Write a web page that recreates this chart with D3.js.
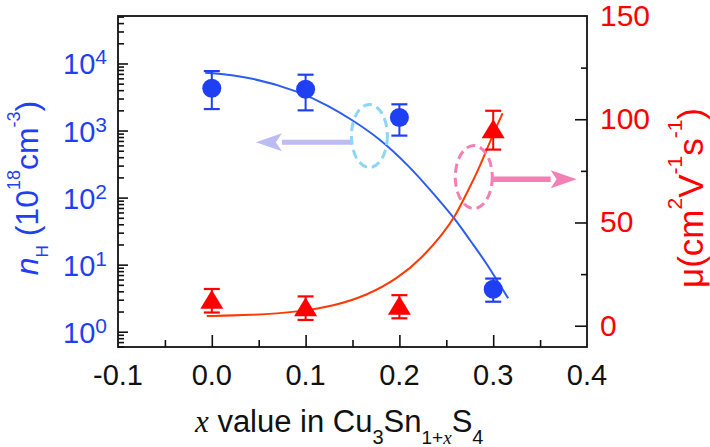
<!DOCTYPE html>
<html><head><meta charset="utf-8">
<script src="https://cdn.jsdelivr.net/npm/d3@7"></script>
<style>
html,body{margin:0;padding:0;background:#fff;}
svg{display:block;font-family:"Liberation Sans",Arial,sans-serif;}
</style></head>
<body>
<script>
// ---- data ----
const xVals = [0.0, 0.1, 0.2, 0.3];
const nH = [4270, 4120, 1560, 4.3];
const nHErrHi = [7700, 6800, 2460, 6.2];
const nHErrLo = [2090, 2000, 840, 2.8];
const mu = [12.1, 8.5, 9.2, 94.7];
const muErr = [5.7, 5.7, 5.6, 9.4];
const nHFitX = [-0.007, 0.041, 0.094, 0.126, 0.147, 0.179, 0.211, 0.233, 0.259, 0.275, 0.293, 0.307, 0.316];
const nHFitY = [7290, 6360, 3800, 2270, 1520, 766, 289, 130, 49.1, 23.3, 10.5, 4.97, 3.15];
const muFitX = [-0.0054, 0.0407, 0.094, 0.1295, 0.1651, 0.1985, 0.2255, 0.2468, 0.2593, 0.2717, 0.2859, 0.3001, 0.3101];
const muFitY = [4.70, 5.04, 6.78, 9.54, 14.6, 22.9, 33.4, 44.8, 52.8, 64.1, 77.0, 93.2, 102.9];
const xTicks = [-0.1, 0.0, 0.1, 0.2, 0.3, 0.4];
const xTickLabels = ["-0.1", "0.0", "0.1", "0.2", "0.3", "0.4"];
const xMinorTicks = [-0.05, 0.05, 0.15, 0.25, 0.35];
const leftTicks = [1, 10, 100, 1000, 10000];
const leftTickExp = ["0", "1", "2", "3", "4"];
const rightTicks = [0, 50, 100, 150];
const rightMinorTicks = [25, 75, 125];
// annotations (data coords)
const blueEllipse = {x: 0.168, y: 830};
const blueArrow = {x0: 0.149, x1: 0.047, y: 668};
const pinkEllipse = {x: 0.2793, y: 72.0};
const pinkArrow = {x0: 0.300, x1: 0.389, y: 70.9};

// ---- layout ----
const W = 710, H = 447;
const M = {l: 118, r: 587, t: 16, b: 347};
const BLUE = "#1f3ff2", RED = "#ff0000";
const FS = 29;

const svg = d3.select("body").append("svg").attr("width", W).attr("height", H);
svg.append("rect").attr("width", W).attr("height", H).attr("fill", "#fff");

const x = d3.scaleLinear().domain([-0.1, 0.4]).range([M.l, M.r]);
const yL = d3.scaleLog().domain([0.5915, 51050]).range([M.b, M.t]);
const yR = d3.scaleLinear().domain([-10.3, 150]).range([M.b, M.t]);

// minor log ticks
const leftMinor = [];
for (let e = -1; e <= 4; e++) for (let k = 2; k <= 9; k++) {
  const v = k * Math.pow(10, e);
  if (v >= yL.domain()[0] && v <= yL.domain()[1]) leftMinor.push(v);
}

// axes (ticks inward)
const gx = svg.append("g").attr("transform", `translate(0,${M.b})`)
  .call(d3.axisBottom(x).tickValues(xTicks.slice(1, -1)).tickSize(-12).tickFormat(""));
const gx2 = svg.append("g").attr("transform", `translate(0,${M.b})`)
  .call(d3.axisBottom(x).tickValues(xMinorTicks).tickSize(-7).tickFormat(""));
const gl = svg.append("g").attr("transform", `translate(${M.l},0)`)
  .call(d3.axisLeft(yL).tickValues(leftTicks).tickSize(-10).tickFormat(""));
const gl2 = svg.append("g").attr("transform", `translate(${M.l},0)`)
  .call(d3.axisLeft(yL).tickValues(leftMinor).tickSize(-6).tickFormat(""));
const gr = svg.append("g").attr("transform", `translate(${M.r},0)`)
  .call(d3.axisRight(yR).tickValues(rightTicks.slice(0, 3)).tickSize(-12).tickFormat(""));
const gr2 = svg.append("g").attr("transform", `translate(${M.r},0)`)
  .call(d3.axisRight(yR).tickValues(rightMinorTicks).tickSize(-6).tickFormat(""));
[gx, gx2, gl, gl2, gr, gr2].forEach(g => {
  g.select(".domain").remove();
  g.selectAll(".tick line").attr("stroke", "#111").attr("stroke-width", 1.6);
});

// frame
svg.append("rect").attr("x", M.l).attr("y", M.t).attr("width", M.r - M.l).attr("height", M.b - M.t)
  .attr("fill", "none").attr("stroke", "#111").attr("stroke-width", 1.8);

// x tick labels
svg.append("g").selectAll("text").data(xTicks).join("text")
  .attr("x", d => x(d)).attr("y", M.b + 38).attr("text-anchor", "middle")
  .attr("font-size", FS).attr("fill", "#111")
  .text((d, i) => xTickLabels[i]);

// left tick labels 10^n
const ll = svg.append("g").selectAll("text").data(leftTicks).join("text")
  .attr("x", M.l - 11).attr("y", d => yL(d) + 11).attr("text-anchor", "end")
  .attr("font-size", FS).attr("fill", BLUE);
ll.append("tspan").text("10");
ll.append("tspan").attr("font-size", 21).attr("dy", -10).text((d, i) => leftTickExp[i]);

// right tick labels
svg.append("g").selectAll("text").data(rightTicks).join("text")
  .attr("x", M.r + 13).attr("y", d => yR(d) + 10).attr("text-anchor", "start")
  .attr("font-size", 30).attr("fill", RED).text(d => d);

// left title
const lt = svg.append("text").attr("transform", `translate(38,188) rotate(-90)`)
  .attr("text-anchor", "middle").attr("font-size", 32).attr("fill", BLUE);
lt.append("tspan").attr("font-style", "italic").text("n");
lt.append("tspan").attr("font-size", 17).attr("dy", 10).text("H");
lt.append("tspan").attr("dy", -10).text(" (10");
lt.append("tspan").attr("font-size", 18).attr("dy", -18).text("18");
lt.append("tspan").attr("dy", 18).text("cm");
lt.append("tspan").attr("font-size", 18).attr("dy", -18).text("-3");
lt.append("tspan").attr("dy", 18).text(")");

// right title
const rt = svg.append("text").attr("transform", `translate(703,198) rotate(-90)`)
  .attr("text-anchor", "middle").attr("font-size", 35).attr("fill", RED);
rt.append("tspan").text("\u03bc(cm");
rt.append("tspan").attr("font-size", 21).attr("dy", -21).text("2");
rt.append("tspan").attr("dy", 21).text("V");
rt.append("tspan").attr("font-size", 21).attr("dy", -21).text("-1");
rt.append("tspan").attr("dy", 21).text("s");
rt.append("tspan").attr("font-size", 21).attr("dy", -21).text("-1");
rt.append("tspan").attr("dy", 21).text(")");

// x title
const xt = svg.append("text").attr("x", 195).attr("y", 431.5).attr("font-size", 31).attr("fill", "#111");
xt.append("tspan").attr("font-family", "'Liberation Serif',serif").attr("font-style", "italic").text("x");
xt.append("tspan").text(" value in Cu");
xt.append("tspan").attr("font-size", 20).attr("dy", 12).text("3");
xt.append("tspan").attr("dy", -12).text("Sn");
xt.append("tspan").attr("font-size", 19).attr("dy", 12).text("1+");
xt.append("tspan").attr("font-size", 19).attr("font-family", "'Liberation Serif',serif").attr("font-style", "italic").text("x");
xt.append("tspan").attr("dy", -12).text("S");
xt.append("tspan").attr("font-size", 20).attr("dy", 12).text("4");

// fit curves
const fitN = nHFitX.map((v, i) => [v, nHFitY[i]]);
const fitM = muFitX.map((v, i) => [v, muFitY[i]]);
svg.append("path").datum(fitN)
  .attr("d", d3.line().x(d => x(d[0])).y(d => yL(d[1])).curve(d3.curveBasis))
  .attr("fill", "none").attr("stroke", "#2d5cf0").attr("stroke-width", 2);
svg.append("path").datum(fitM)
  .attr("d", d3.line().x(d => x(d[0])).y(d => yR(d[1])).curve(d3.curveBasis))
  .attr("fill", "none").attr("stroke", "#ff3a00").attr("stroke-width", 2);

// annotations
function arrow(x0, x1, y, color, shaft) {
  const dir = Math.sign(x1 - x0), hl = 26, hh = 9;
  const xb = x1 - dir * hl;
  svg.append("line").attr("x1", x0).attr("x2", xb).attr("y1", y).attr("y2", y)
    .attr("stroke", color).attr("stroke-width", shaft);
  svg.append("path").attr("d", `M${x1},${y}L${xb},${y - hh}L${xb + dir * 6},${y}L${xb},${y + hh}Z`).attr("fill", color);
}
arrow(x(blueArrow.x0), x(blueArrow.x1), yL(blueArrow.y), "#bcbcf2", 5);
arrow(x(pinkArrow.x0), x(pinkArrow.x1), yR(pinkArrow.y), "#f47fb4", 5.5);
svg.append("ellipse").attr("cx", x(blueEllipse.x)).attr("cy", yL(blueEllipse.y)).attr("rx", 18).attr("ry", 31.5)
  .attr("fill", "none").attr("stroke", "#8dd6f6").attr("stroke-width", 3).attr("stroke-dasharray", "9,5");
svg.append("ellipse").attr("cx", x(pinkEllipse.x)).attr("cy", yR(pinkEllipse.y)).attr("rx", 18.5).attr("ry", 31.5)
  .attr("fill", "none").attr("stroke", "#f47fb4").attr("stroke-width", 3).attr("stroke-dasharray", "9,5");

// blue data with error bars
const gB = svg.append("g");
xVals.forEach((xv, i) => {
  const cx = x(xv);
  gB.append("line").attr("x1", cx).attr("x2", cx).attr("y1", yL(nHErrLo[i])).attr("y2", yL(nHErrHi[i]))
    .attr("stroke", BLUE).attr("stroke-width", 2);
  [nHErrLo[i], nHErrHi[i]].forEach(v => gB.append("line").attr("x1", cx - 8).attr("x2", cx + 8)
    .attr("y1", yL(v)).attr("y2", yL(v)).attr("stroke", BLUE).attr("stroke-width", 2.2));
  gB.append("circle").attr("cx", cx).attr("cy", yL(nH[i])).attr("r", 9.5).attr("fill", BLUE);
});

// red data with error bars
const gR = svg.append("g");
xVals.forEach((xv, i) => {
  const cx = x(xv), cy = yR(mu[i]);
  gR.append("line").attr("x1", cx).attr("x2", cx).attr("y1", yR(mu[i] - muErr[i])).attr("y2", yR(mu[i] + muErr[i]))
    .attr("stroke", RED).attr("stroke-width", 2);
  [mu[i] - muErr[i], mu[i] + muErr[i]].forEach(v => gR.append("line").attr("x1", cx - 8).attr("x2", cx + 8)
    .attr("y1", yR(v)).attr("y2", yR(v)).attr("stroke", RED).attr("stroke-width", 2.2));
  gR.append("path").attr("d", `M${cx},${cy - 11}L${cx + 11.5},${cy + 8}L${cx - 11.5},${cy + 8}Z`).attr("fill", RED);
});
</script>
</body></html>
